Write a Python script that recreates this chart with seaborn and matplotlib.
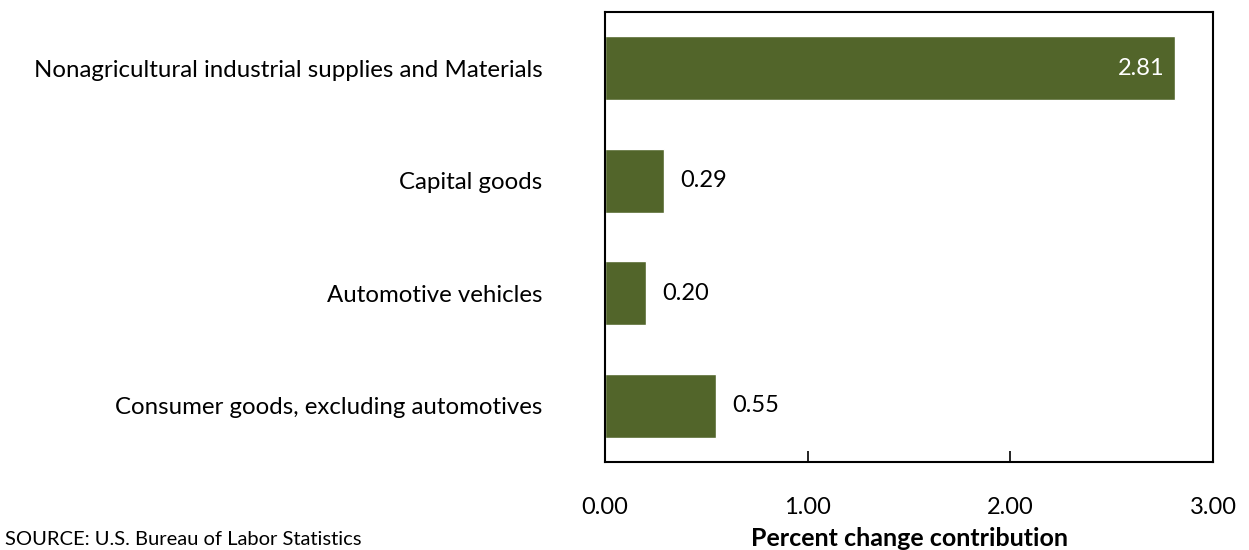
import numpy as np
import pandas as pd
import seaborn as sns
import matplotlib.pyplot as plt

categories = ['Nonagricultural industrial supplies and Materials',
              'Capital goods',
              'Automotive vehicles',
              'Consumer goods, excluding automotives']
values = [2.81, 0.29, 0.20, 0.55]
xticks = [0.0, 1.0, 2.0, 3.0]

sns.set_style('white')
plt.rcParams['font.family'] = ['Lato', 'DejaVu Sans']
plt.rcParams['text.color'] = 'black'
plt.rcParams['xtick.color'] = 'black'
plt.rcParams['ytick.color'] = 'black'

df = pd.DataFrame({'category': categories, 'value': values})

fig = plt.figure(figsize=(12.49, 5.5), dpi=100)
ax = fig.add_axes([0.4844, 0.16, 0.4868, 0.818])

sns.barplot(data=df, x='value', y='category', orient='h', color='#52652A',
            saturation=1, width=0.57, ax=ax)

ax.set_xlim(0, 3)
ax.set_ylim(3.5, -0.5)
ax.set_xticks(xticks)
ax.set_xticklabels(['%.2f' % t for t in xticks], fontsize=17)
ax.tick_params(axis='x', direction='in', length=8, width=1.2, pad=25, bottom=True)
ax.tick_params(axis='y', length=0, pad=45, labelsize=17.3)
for s in ax.spines.values():
    s.set_color('black')
    s.set_linewidth(1.5)

for i, v in enumerate(values):
    if v > 2:
        ax.text(v - 0.05, i, '%.2f' % v, ha='right', va='center', color='white', fontsize=17)
    else:
        ax.text(v + 0.08, i, '%.2f' % v, ha='left', va='center', color='black', fontsize=17)

ax.set_ylabel('')
ax.set_xlabel('')
fig.text(0.7278, 0.0, 'Percent change contribution', fontsize=18, fontweight='bold',
         ha='center', va='bottom')
fig.text(0.004, 0.003, 'SOURCE: U.S. Bureau of Labor Statistics', fontsize=14.5, ha='left', va='bottom')

plt.savefig('out.png', dpi=100)
